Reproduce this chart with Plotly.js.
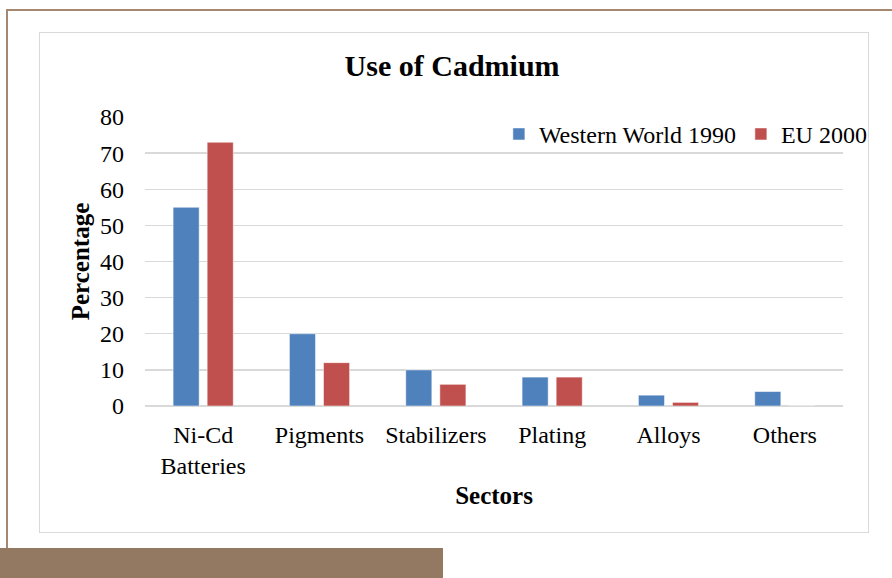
<!DOCTYPE html>
<html>
<head>
<meta charset="utf-8">
<script src="https://cdn.plot.ly/plotly-3.0.1.min.js"></script>
<style>
  html, body { margin: 0; padding: 0; background: #ffffff; }
  #wrap { position: relative; width: 892px; height: 578px; overflow: hidden; background: #ffffff; }
  #chart { position: absolute; left: 0; top: 0; width: 892px; height: 578px; }
  .frame { position: absolute; }
</style>
</head>
<body>
<div id="wrap">
  <div class="frame" style="left:6px; top:9px; width:886px; height:2px; background:#a5886f;"></div>
  <div class="frame" style="left:6px; top:9px; width:2px; height:540px; background:#a5886f;"></div>
  <div class="frame" style="left:0px; top:548px; width:443px; height:30px; background:#937862;"></div>
  <div class="frame" style="left:39px; top:32px; width:828px; height:499px; border:1.5px solid #d9d9d9; background:#ffffff;"></div>
  <div id="chart"></div>
</div>
<script>
const categories = ["Ni-Cd<br>Batteries", "Pigments", "Stabilizers", "Plating", "Alloys", "Others"];
const westernWorld1990 = [55, 20, 10, 8, 3, 4];
const eu2000 = [73, 12, 6, 8, 1, 0];
const seriesNames = ["Western World 1990", "EU 2000"];
const yTicks = [0, 10, 20, 30, 40, 50, 60, 70, 80];

const serif = "Liberation Serif, Times New Roman, serif";

const traces = [
  { type: "bar", name: seriesNames[0], x: categories, y: westernWorld1990,
    marker: { color: "#4f81bd", line: { color: "#ffffff", width: 0.5 } }, hoverinfo: "none" },
  { type: "bar", name: seriesNames[1], x: categories, y: eu2000,
    marker: { color: "#c0504d", line: { color: "#ffffff", width: 0.5 } }, hoverinfo: "none" }
];

const layout = {
  width: 892, height: 578,
  paper_bgcolor: "rgba(0,0,0,0)",
  plot_bgcolor: "rgba(0,0,0,0)",
  margin: { l: 145, r: 49, t: 117, b: 172 },
  font: { family: serif, size: 24, color: "#000000" },
  title: { text: "<b>Use of Cadmium</b>", font: { family: serif, size: 30, color: "#000000" },
           x: 0.44, xanchor: "center", y: 0.886, yanchor: "middle", xref: "paper", yref: "container" },
  barmode: "group",
  bargap: 0.414,
  bargroupgap: 0.235,
  showlegend: true,
  legend: { orientation: "h", x: 0.507, xanchor: "left", y: 0.94, yanchor: "middle",
            font: { family: serif, size: 24, color: "#000000" }, bgcolor: "rgba(0,0,0,0)",
            traceorder: "normal", itemwidth: 30 },
  xaxis: {
    type: "category",
    showgrid: false, zeroline: false, showline: false, ticks: "",
    tickfont: { family: serif, size: 24, color: "#000000" },
    ticklabelstandoff: 12,
    title: { text: "<b>Sectors</b>", font: { family: serif, size: 25, color: "#000000" }, standoff: 8 }
  },
  yaxis: {
    range: [0, 80], tickvals: yTicks, ticktext: yTicks.map(String),
    showgrid: true, gridcolor: "#d9d9d9", gridwidth: 1.3,
    zeroline: true, zerolinecolor: "#d9d9d9", zerolinewidth: 1.3,
    showline: false, ticks: "",
    tickfont: { family: serif, size: 24, color: "#000000" },
    ticklabelstandoff: 20,
    title: { text: "<b>Percentage</b>", font: { family: serif, size: 25, color: "#000000" }, standoff: 3 }
  }
};

Plotly.newPlot("chart", traces, layout, { staticPlot: true, displayModeBar: false });
</script>
</body>
</html>
